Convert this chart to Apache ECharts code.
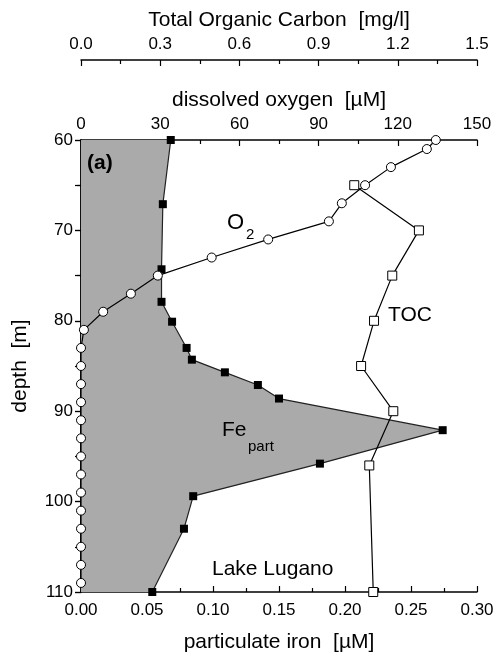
<!doctype html>
<html>
<head>
<meta charset="UTF-8">
<title>Lake Lugano profile</title>
<script src="https://cdn.jsdelivr.net/npm/echarts@6/dist/echarts.min.js"></script>
<style>
  html, body { margin: 0; padding: 0; background: #fff; }
  #main { width: 498px; height: 652px; }
</style>
</head>
<body>
<div id="main"></div>
<script>
// particulate iron [uM] vs depth [m]
var feDepth = [60, 67.1, 74.3, 77.9, 80.1, 83.0, 84.3, 85.7, 87.1, 88.6, 92.1, 95.8, 99.4, 103.0, 110];
var feConc  = [0.068, 0.062, 0.061, 0.061, 0.069, 0.080, 0.084, 0.109, 0.134, 0.150, 0.274, 0.181, 0.085, 0.078, 0.054];

// dissolved oxygen [uM]
var o2Depth = [60, 61, 63, 65, 67, 69, 71, 73, 75, 77, 79, 81, 83, 85, 87, 89, 91, 93, 95, 97, 99, 101, 103, 105, 107, 109];
var o2Conc  = [134.4, 131.0, 117.4, 107.6, 98.8, 93.9, 70.9, 49.5, 29.1, 18.9, 8.4, 1.1, 0, 0, 0, 0, 0, 0, 0, 0, 0, 0, 0, 0, 0, 0];

// total organic carbon [mg/l]
var tocDepth = [65, 70, 75, 80, 85, 90, 96, 110];
var tocConc  = [1.035, 1.280, 1.179, 1.110, 1.061, 1.183, 1.092, 1.107];

function pairs(xs, ys) {
    var out = [];
    for (var i = 0; i < xs.length; i++) { out.push([xs[i], ys[i]]); }
    return out;
}

var FONT = 'Liberation Sans';
var myChart = echarts.init(document.getElementById('main'));

var tickLine = { color: '#000', width: 1.2 };
var axisLine = { lineStyle: { color: '#000', width: 1.5 } };
var labelStyle = { color: '#000', fontSize: 17, fontFamily: FONT };
var nameStyle = { color: '#000', fontSize: 21, fontFamily: FONT };

var option = {
    backgroundColor: '#fff',
    animation: false,
    grid: { left: 81, right: 21, top: 140, bottom: 60, outerBoundsMode: 'none' },
    xAxis: [
        {   // bottom: particulate iron
            type: 'value', position: 'bottom', min: 0, max: 0.30, interval: 0.05,
            name: 'particulate iron  [\u00b5M]', nameLocation: 'middle', nameGap: 40,
            nameTextStyle: nameStyle,
            axisLine: axisLine,
            axisTick: { inside: true, length: 6, lineStyle: tickLine },
            minorTick: { show: true, splitNumber: 2, length: 4, lineStyle: tickLine },
            axisLabel: Object.assign({ margin: 10, formatter: function (v) { return v.toFixed(2); } }, labelStyle),
            splitLine: { show: false }
        },
        {   // top: dissolved oxygen
            type: 'value', position: 'top', min: 0, max: 150, interval: 30,
            name: 'dissolved oxygen  [\u00b5M]', nameLocation: 'middle', nameGap: 27,
            nameTextStyle: nameStyle,
            axisLine: axisLine,
            axisTick: { inside: true, length: 6, lineStyle: tickLine },
            minorTick: { show: true, splitNumber: 2, length: 4, lineStyle: tickLine },
            axisLabel: Object.assign({ margin: 7 }, labelStyle),
            splitLine: { show: false }
        },
        {   // top-most: TOC
            type: 'value', position: 'top', offset: 80, min: 0, max: 1.5, interval: 0.3,
            name: 'Total Organic Carbon  [mg/l]', nameLocation: 'middle', nameGap: 23,
            nameTextStyle: nameStyle,
            axisLine: axisLine,
            axisTick: { inside: true, length: 6, lineStyle: tickLine },
            minorTick: { show: true, splitNumber: 2, length: 4, lineStyle: tickLine },
            axisLabel: Object.assign({ margin: 7, formatter: function (v) { return v.toFixed(1); } }, labelStyle),
            splitLine: { show: false }
        }
    ],
    yAxis: [
        {
            type: 'value', position: 'left', inverse: true, min: 60, max: 110, interval: 10,
            name: 'depth  [m]', nameLocation: 'middle', nameGap: 50, nameRotate: 90,
            nameTextStyle: nameStyle,
            axisLine: axisLine,
            axisTick: { inside: false, length: 6, lineStyle: tickLine },
            minorTick: { show: true, splitNumber: 2, length: 4, lineStyle: tickLine },
            axisLabel: Object.assign({ margin: 8 }, labelStyle),
            splitLine: { show: false }
        },
        {
            type: 'value', position: 'right', inverse: true, min: 60, max: 110, interval: 5,
            axisLine: axisLine,
            axisTick: { inside: true, length: 6, lineStyle: tickLine },
            axisLabel: { show: false },
            splitLine: { show: false }
        }
    ],
    series: [
        {   // shaded Fe area between depth axis and Fe profile
            type: 'custom', xAxisIndex: 0, yAxisIndex: 0, z: 1,
            data: [[0, feDepth[0]]],
            renderItem: function (params, api) {
                var pts = [api.coord([0, feDepth[0]])];
                for (var i = 0; i < feConc.length; i++) {
                    pts.push(api.coord([feConc[i], feDepth[i]]));
                }
                pts.push(api.coord([0, feDepth[feDepth.length - 1]]));
                return { type: 'polygon', shape: { points: pts }, style: { fill: '#aaaaaa' } };
            }
        },
        {
            type: 'line', name: 'Fe', xAxisIndex: 0, yAxisIndex: 0, z: 3,
            data: pairs(feConc, feDepth),
            symbol: 'rect', symbolSize: 8,
            lineStyle: { color: '#222', width: 1.2 },
            itemStyle: { color: '#000' }
        },
        {
            type: 'line', name: 'O2', xAxisIndex: 1, yAxisIndex: 0, z: 4,
            data: pairs(o2Conc, o2Depth),
            symbol: 'circle', symbolSize: 9, showAllSymbol: true,
            lineStyle: { color: '#000', width: 1.2 },
            itemStyle: { color: '#fff', borderColor: '#000', borderWidth: 1 }
        },
        {
            type: 'line', name: 'TOC', xAxisIndex: 2, yAxisIndex: 0, z: 4,
            data: pairs(tocConc, tocDepth),
            symbol: 'rect', symbolSize: 9,
            lineStyle: { color: '#000', width: 1.2 },
            itemStyle: { color: '#fff', borderColor: '#000', borderWidth: 1 }
        }
    ],
    graphic: [
        { type: 'text', x: 87, y: 163, z: 10, style: { text: '(a)', font: 'bold 21px ' + FONT, fill: '#000', verticalAlign: 'middle' } },
        { type: 'text', x: 227, y: 223, z: 10, style: { text: 'O', font: '22px ' + FONT, fill: '#000', verticalAlign: 'middle' } },
        { type: 'text', x: 246, y: 235, z: 10, style: { text: '2', font: '15px ' + FONT, fill: '#000', verticalAlign: 'middle' } },
        { type: 'text', x: 388, y: 315, z: 10, style: { text: 'TOC', font: '21px ' + FONT, fill: '#000', verticalAlign: 'middle' } },
        { type: 'text', x: 222, y: 430, z: 10, style: { text: 'Fe', font: '21px ' + FONT, fill: '#000', verticalAlign: 'middle' } },
        { type: 'text', x: 248, y: 447, z: 10, style: { text: 'part', font: '15px ' + FONT, fill: '#000', verticalAlign: 'middle' } },
        { type: 'text', x: 212, y: 569, z: 10, style: { text: 'Lake Lugano', font: '21px ' + FONT, fill: '#000', verticalAlign: 'middle' } }
    ]
};

myChart.setOption(option);
</script>
</body>
</html>
